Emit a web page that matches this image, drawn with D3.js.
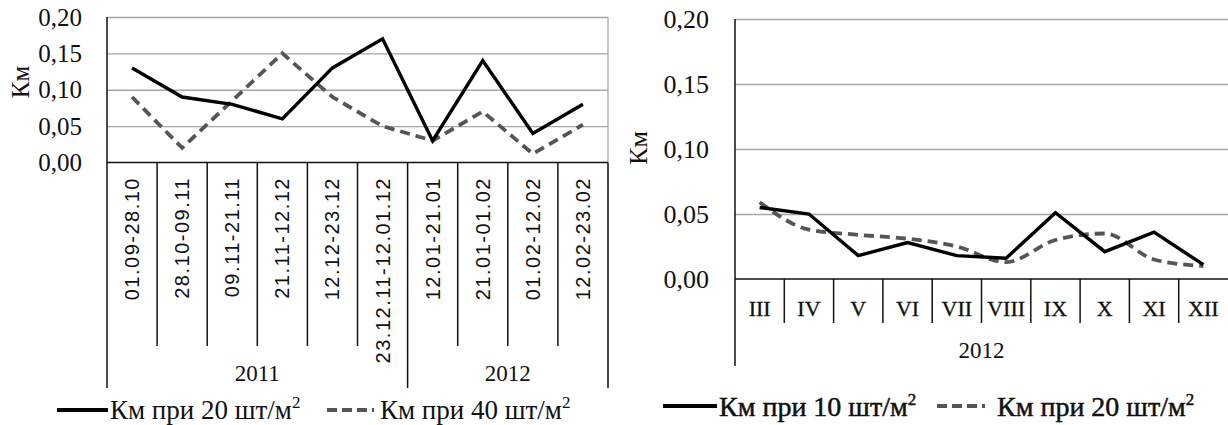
<!DOCTYPE html>
<html>
<head>
<meta charset="utf-8">
<script src="https://cdn.jsdelivr.net/npm/d3@7"></script>
<style>
  body { margin: 0; background: #fff; }
  svg { display: block; }
</style>
</head>
<body>
<svg id="chart" width="1228" height="425"></svg>
<script>
// left panel: 2011-2012 periods
const leftCats = ["01.09-28.10", "28.10-09.11", "09.11-21.11", "21.11-12.12", "12.12-23.12",
                  "23.12.11-12.01.12", "12.01-21.01", "21.01-01.02", "01.02-12.02", "12.02-23.02"];
const leftYears = ["2011", "2011", "2011", "2011", "2011", "2011", "2012", "2012", "2012", "2012"];
const leftKm20 = [0.13, 0.09, 0.08, 0.06, 0.13, 0.17, 0.03, 0.14, 0.04, 0.08];
const leftKm40 = [0.09, 0.02, 0.085, 0.15, 0.09, 0.05, 0.03, 0.07, 0.012, 0.052];
const leftLegend = ["Км при 20 шт/м", "Км при 40 шт/м"];

// right panel: months of 2012
const rightCats = ["III", "IV", "V", "VI", "VII", "VIII", "IX", "X", "XI", "XII"];
const rightYears = ["2012", "2012", "2012", "2012", "2012", "2012", "2012", "2012", "2012", "2012"];
const rightKm10 = [0.055, 0.050, 0.018, 0.028, 0.018, 0.016, 0.051, 0.021, 0.036, 0.011];
const rightKm20 = [0.059, 0.038, 0.034, 0.031, 0.025, 0.013, 0.030, 0.035, 0.015, 0.010];
const rightLegend = ["Км при 10 шт/м", "Км при 20 шт/м"];

const yTicks = [0, 0.05, 0.10, 0.15, 0.20];
const yTitle = "Км";

const fmt = d => d3.format(".2f")(d).replace(".", ",");
const SERIF = '"Liberation Serif"';
const SANS = '"Liberation Sans"';

const svg = d3.select("#chart");

function drawPanel(cfg) {
  const g = svg.append("g");

  const x = d3.scaleBand().domain(cfg.cats).range([cfg.x0, cfg.x1]);
  const y = d3.scaleLinear().domain([0, 0.2]).range([cfg.yBottom, cfg.yTop]);

  // grid lines
  g.append("g")
    .attr("transform", `translate(${cfg.x0},0)`)
    .call(d3.axisLeft(y).tickValues(yTicks.filter(d => d > 0)).tickSize(-(cfg.x1 - cfg.x0)).tickFormat(""))
    .call(a => a.select(".domain").remove())
    .call(a => a.selectAll("line").attr("stroke", "#a6a6a6").attr("stroke-width", 1.3));

  if (cfg.rightBorder) {
    g.append("line")
      .attr("x1", cfg.x1).attr("x2", cfg.x1)
      .attr("y1", y(0.2)).attr("y2", y(0))
      .attr("stroke", "#a6a6a6").attr("stroke-width", 1.3);
  }

  // y tick labels
  g.append("g")
    .attr("transform", `translate(${cfg.x0},0)`)
    .call(d3.axisLeft(y).tickValues(yTicks).tickSize(0).tickPadding(cfg.x0 - cfg.labelRight).tickFormat(fmt))
    .call(a => a.select(".domain").remove())
    .call(a => a.selectAll("text")
      .style("font-family", SERIF).style("font-size", cfg.yFont + "px").attr("fill", "#111"));

  // y title
  g.append("text")
    .attr("transform", `translate(${cfg.titleX},${cfg.titleY}) rotate(-90)`)
    .attr("text-anchor", "middle").attr("dy", "0.35em")
    .style("font-family", SERIF).style("font-size", cfg.titleFont + "px").attr("fill", "#111")
    .text(yTitle);

  // x axis line and y axis line
  g.append("line")
    .attr("x1", cfg.x0).attr("x2", cfg.x1).attr("y1", y(0)).attr("y2", y(0))
    .attr("stroke", "#111").attr("stroke-width", 1.5);
  g.append("line")
    .attr("x1", cfg.x0).attr("x2", cfg.x0).attr("y1", y(0.2)).attr("y2", cfg.outerBottom)
    .attr("stroke", "#111").attr("stroke-width", 1.5);

  // category dividers
  cfg.cats.forEach((c, i) => {
    if (i === 0) return;
    const bx = x(c);
    const outer = cfg.years[i] !== cfg.years[i - 1];
    g.append("line")
      .attr("x1", bx).attr("x2", bx)
      .attr("y1", y(0)).attr("y2", outer ? cfg.outerBottom : cfg.innerBottom)
      .attr("stroke", "#111").attr("stroke-width", 1.5);
  });
  if (cfg.rightBorder) {
    g.append("line")
      .attr("x1", cfg.x1).attr("x2", cfg.x1).attr("y1", y(0)).attr("y2", cfg.outerBottom)
      .attr("stroke", "#111").attr("stroke-width", 1.5);
  }

  // category labels
  if (cfg.rotate) {
    g.selectAll(".cat").data(cfg.cats).join("text")
      .attr("transform", d => `translate(${x(d) + x.bandwidth() / 2},${cfg.catY}) rotate(-90)`)
      .attr("text-anchor", "end").attr("dy", "0.35em")
      .style("font-family", SANS).style("font-size", cfg.catFont + "px")
      .style("letter-spacing", "1.5px").attr("fill", "#111")
      .text(d => d);
  } else {
    g.selectAll(".cat").data(cfg.cats).join("text")
      .attr("x", d => x(d) + x.bandwidth() / 2).attr("y", cfg.catY)
      .attr("text-anchor", "middle").attr("dy", "0.35em")
      .style("font-family", SERIF).style("font-size", cfg.catFont + "px").attr("fill", "#111")
      .attr("stroke", "#111").attr("stroke-width", 0.3)
      .text(d => d);
  }

  // year labels
  const groups = d3.groups(cfg.cats.map((c, i) => ({c, yr: cfg.years[i]})), d => d.yr);
  groups.forEach(([yr, items]) => {
    const a = x(items[0].c), b = x(items[items.length - 1].c) + x.bandwidth();
    g.append("text")
      .attr("x", (a + b) / 2).attr("y", cfg.yearY)
      .attr("text-anchor", "middle").attr("dy", "0.35em")
      .style("font-family", SERIF).style("font-size", cfg.yearFont + "px").attr("fill", "#111")
      .text(yr);
  });

  // series
  const cx = (d, i) => x(cfg.cats[i]) + x.bandwidth() / 2;
  g.append("path")
    .datum(cfg.dashed)
    .attr("fill", "none").attr("stroke", "#555").attr("stroke-width", 3.8)
    .attr("stroke-dasharray", "10,6")
    .attr("d", d3.line().x(cx).y(d => y(d)).curve(cfg.dashCurve));
  g.append("path")
    .datum(cfg.solid)
    .attr("fill", "none").attr("stroke", "#000").attr("stroke-width", 3.4)
    .attr("d", d3.line().x(cx).y(d => y(d)));

  // legend
  const lg = g.append("g");
  cfg.legendItems.forEach((it, i) => {
    lg.append("line")
      .attr("x1", it.lx0).attr("x2", it.lx1).attr("y1", cfg.legendY).attr("y2", cfg.legendY)
      .attr("stroke", i === 0 ? "#000" : "#555").attr("stroke-width", 3.8)
      .attr("stroke-dasharray", i === 0 ? null : "10,5");
    const t = lg.append("text")
      .attr("x", it.tx).attr("y", cfg.legendY).attr("dy", "0.35em")
      .style("font-family", SERIF).style("font-size", cfg.legendFont + "px").attr("fill", "#111")
      .attr("stroke", cfg.legendBold ? "#111" : null).attr("stroke-width", cfg.legendBold ? 0.5 : null);
    t.append("tspan").text(cfg.legend[i]);
    t.append("tspan").attr("dy", -11).style("font-size", Math.round(cfg.legendFont * 0.62) + "px").text("2");
  });
}

drawPanel({
  cats: leftCats, years: leftYears, solid: leftKm20, dashed: leftKm40, legend: leftLegend,
  x0: 107, x1: 608, yTop: 17, yBottom: 162.5, rightBorder: true,
  labelRight: 82, yFont: 25, titleX: 20, titleY: 82, titleFont: 25,
  innerBottom: 346, outerBottom: 388, rotate: true, catY: 177, catFont: 20,
  yearY: 373, yearFont: 23, dashCurve: d3.curveLinear,
  legendY: 410, legendFont: 27, legendBold: false,
  legendItems: [{lx0: 57, lx1: 108, tx: 110}, {lx0: 327, lx1: 374, tx: 380}]
});

drawPanel({
  cats: rightCats, years: rightYears, solid: rightKm10, dashed: rightKm20, legend: rightLegend,
  x0: 735, x1: 1228, yTop: 19, yBottom: 279, rightBorder: false,
  labelRight: 709, yFont: 26, titleX: 638, titleY: 148, titleFont: 26,
  innerBottom: 323, outerBottom: 366, rotate: false, catY: 308, catFont: 22,
  yearY: 350, yearFont: 23, dashCurve: d3.curveMonotoneX,
  legendY: 406, legendFont: 28, legendBold: true,
  legendItems: [{lx0: 663, lx1: 717, tx: 719}, {lx0: 937, lx1: 985, tx: 997}]
});
</script>
</body>
</html>
